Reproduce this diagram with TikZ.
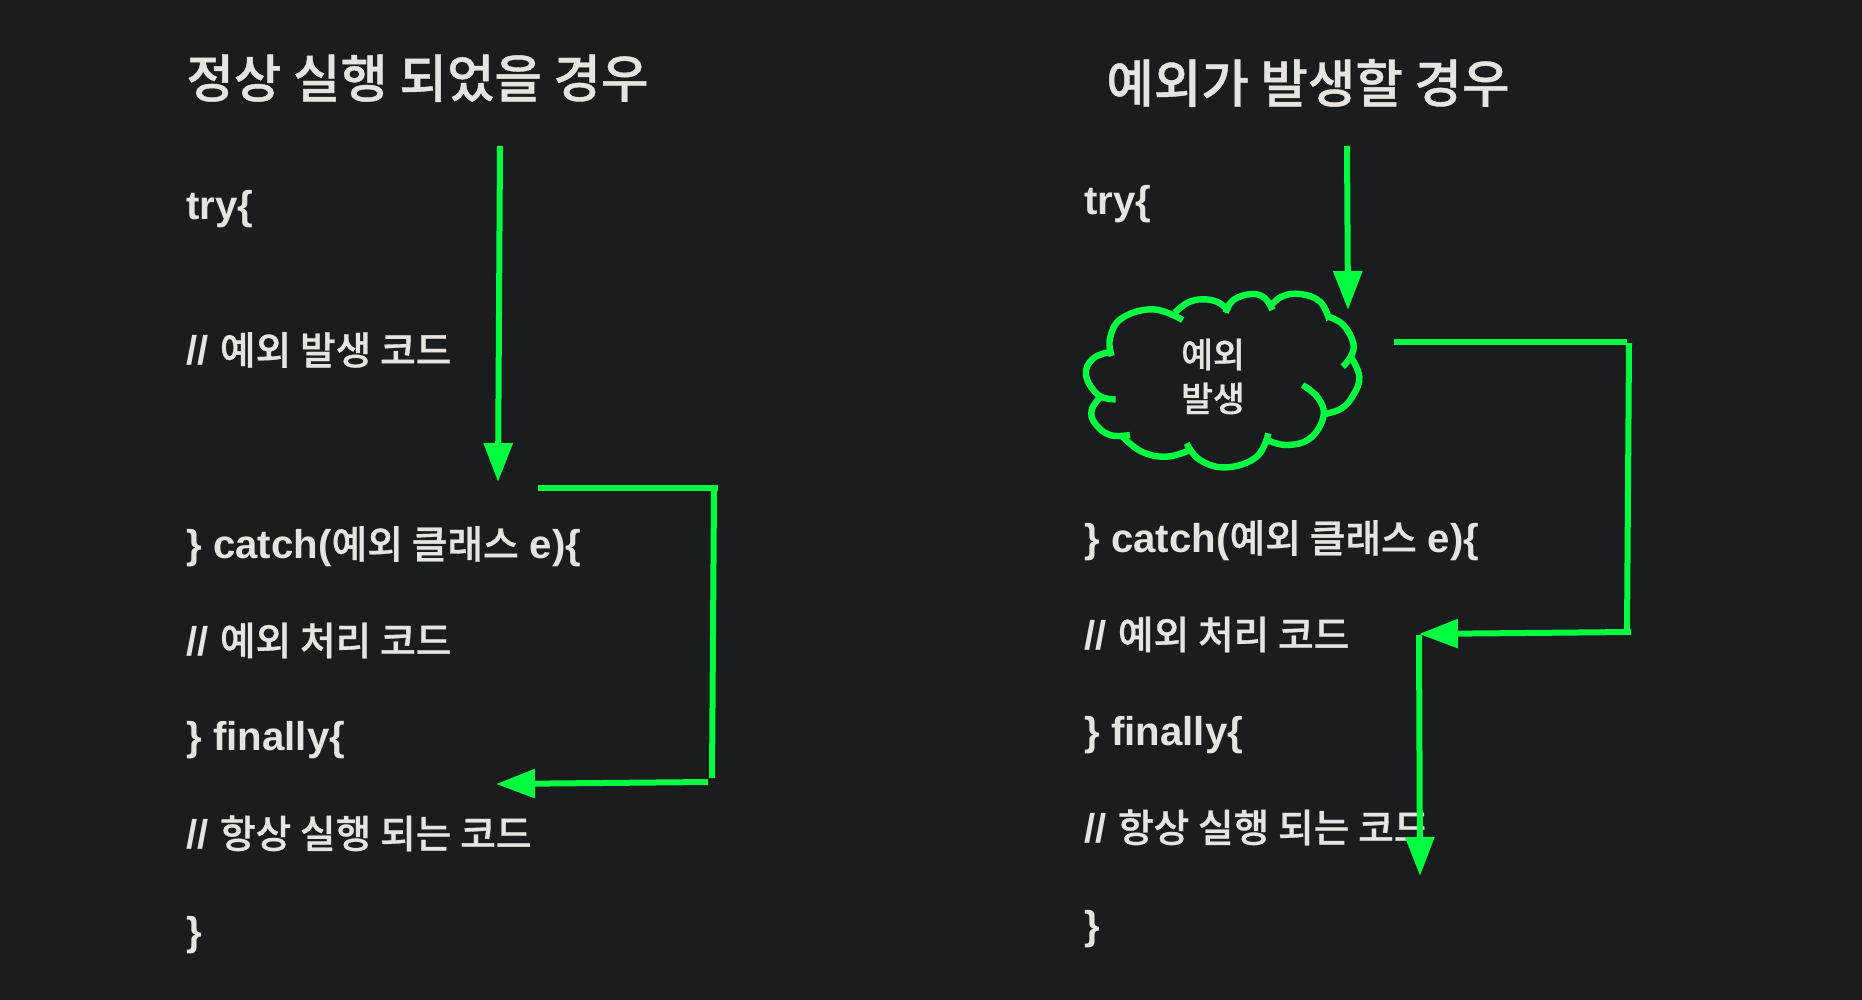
\documentclass[tikz,border=0pt]{standalone}
\usepackage{fontspec}
\setmainfont{Liberation Sans}
\newfontfamily\kr{Noto Sans CJK KR}[BoldFont={Noto Sans CJK KR Medium},BoldFeatures={FakeBold=0.8}]
\newfontfamily\krs{Noto Sans CJK KR}[Scale=0.965,BoldFont={Noto Sans CJK KR Medium},BoldFeatures={FakeBold=0.8}]
\usetikzlibrary{arrows.meta}
\definecolor{bg}{RGB}{26,28,30}
\definecolor{ink}{RGB}{230,228,224}
\definecolor{grn}{RGB}{0,255,64}
\tikzset{
  codeline/.style={anchor=base west,inner sep=0pt,text=ink,font=\bfseries\fontsize{20.1}{24}\selectfont},
  headline/.style={anchor=base west,inner sep=0pt,text=ink,font=\bfseries\fontsize{25.8}{31}\selectfont},
  cloudlabel/.style={align=center,inner sep=0pt,text=ink,font=\kr\bfseries\fontsize{17.3}{22}\selectfont},
  flow/.style={draw=grn,line width=3pt,line cap=butt},
  flowtip/.style={flow,-{Triangle[length=19.5pt,width=14pt,fill=grn]}},
  puff/.style={draw=grn,line width=3.2pt,line cap=butt}
}
\begin{document}
\begin{tikzpicture}[x=0.5pt,y=-0.5pt]
\useasboundingbox[fill=bg] (0,0) rectangle (1862,1000);
% left column
\node[headline] (h1) at (186,97.5) {\kr 정상 실행 되었을 경우};
\node[codeline] (l1) at (186,220) {try\{};
\node[codeline] (l2) at (186,364.5) {// {\krs 예외 발생 코드}};
\node[codeline] (l3) at (186,558.5) {\} catch({\krs 예외 클래스} e)\{};
\node[codeline] (l4) at (186,655) {// {\krs 예외 처리 코드}};
\node[codeline] (l5) at (186,750.5) {\} finally\{};
\node[codeline] (l6) at (186,848) {// {\krs 항상 실행 되는 코드}};
\node[codeline] (l7) at (186,945) {\}};
% right column
\node[headline] (h2) at (1106,102.5) {\kr 예외가 발생할 경우};
\node[codeline] (r1) at (1084,214.5) {try\{};
\node[codeline] (r3) at (1084,552.5) {\} catch({\krs 예외 클래스} e)\{};
\node[codeline] (r4) at (1084,649) {// {\krs 예외 처리 코드}};
\node[codeline] (r5) at (1084,745) {\} finally\{};
\node[codeline] (r6) at (1084,842) {// {\krs 항상 실행 되는 코드}};
\node[codeline] (r7) at (1084,939) {\}};
\node[cloudlabel] (cl) at (1213,376.5) {예외\\발생};
% cloud
\begin{scope}[shift={(1060,270)},x=0.16667pt,y=-0.16667pt]
\draw[puff] plot[smooth,tension=.7] coordinates {(155,258)(150,205)(185,145)(280,118)(368,150)};
\draw[puff] plot[smooth,tension=.7] coordinates {(345,128)(385,97)(435,88)(480,100)(505,125)};
\draw[puff] plot[smooth,tension=.7] coordinates {(497,128)(520,90)(575,72)(615,85)(637,120)};
\draw[puff] plot[smooth,tension=.7] coordinates {(628,112)(665,80)(720,72)(780,95)(808,150)};
\draw[puff] plot[smooth,tension=.7] coordinates {(805,140)(850,165)(880,220)(872,260)(848,290)};
\draw[puff] plot[smooth,tension=.7] coordinates {(872,260)(898,320)(880,375)(845,415)(795,432)};
\draw[puff] plot[smooth,tension=.7] coordinates {(728,345)(775,385)(790,440)(750,505)(680,525)(622,510)};
\draw[puff] plot[smooth,tension=.7] coordinates {(625,490)(590,560)(500,592)(420,570)(380,520)};
\draw[puff] plot[smooth,tension=.7] coordinates {(390,540)(320,560)(245,545)(188,500)};
\draw[puff] plot[smooth,tension=.7] coordinates {(210,495)(150,495)(105,460)(95,420)(120,382)};
\draw[puff] plot[smooth,tension=.7] coordinates {(167,388)(115,375)(78,315)(100,265)(155,245)};
\end{scope}
% connector ends
\coordinate (a1) at (500,146); \coordinate (a2) at (498,482);
\coordinate (b1) at (538,488); \coordinate (b2) at (718,488);
\coordinate (b3) at (714,491); \coordinate (b4) at (712,778);
\coordinate (b5) at (708,782); \coordinate (b6) at (496,784);
\coordinate (c1) at (1347,146); \coordinate (c2) at (1348,310);
\coordinate (d1) at (1394,342); \coordinate (d2) at (1627,342);
\coordinate (d3) at (1629,343); \coordinate (d4) at (1627,632);
\coordinate (d5) at (1631,632); \coordinate (d6) at (1419,634);
\coordinate (e1) at (1419,635); \coordinate (e2) at (1420,876);
\draw[flowtip] (a1) -- (a2);
\draw[flow] (b1) -- (b2);
\draw[flow] (b3) -- (b4);
\draw[flowtip] (b5) -- (b6);
\draw[flowtip] (c1) -- (c2);
\draw[flow] (d1) -- (d2);
\draw[flow] (d3) -- (d4);
\draw[flowtip] (d5) -- (d6);
\draw[flowtip] (e1) -- (e2);
\end{tikzpicture}
\end{document}
